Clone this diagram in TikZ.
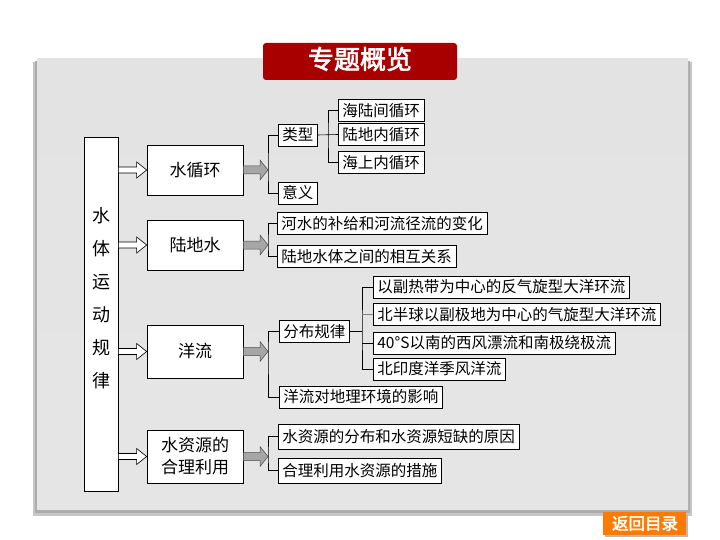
\documentclass[tikz,border=0pt]{standalone}
\usepackage{fontspec}
\setmainfont{Noto Sans CJK SC}
\newfontfamily\boldcjk{Noto Sans CJK SC}[FakeBold=2.5]
\usetikzlibrary{calc}

\definecolor{bannerdark}{HTML}{A80000}
\definecolor{bannerred}{HTML}{E00000}
\definecolor{btnorange}{HTML}{FF7A00}

% hollow arrow from the left column to a topic box
\newcommand{\openarrow}[2]{%
  \draw[line width=0.6pt,fill=white] ($(#1.east |- #2.west)+(0,-3)$) -- ($(#2.west)+(-10,-3)$)
    -- ($(#2.west)+(-10,-8)$) -- (#2.west) -- ($(#2.west)+(-10,8)$) -- ($(#2.west)+(-10,3)$)
    -- ($(#1.east |- #2.west)+(0,3)$) -- cycle;}
% grey arrow from a topic box to its bracket
\newcommand{\greyarrow}[2]{%
  \draw[draw=gray!60!black,fill=gray!70,line width=0.5pt] ($(#1.east)+(0,-4)$) -- ($(#2)+(-8,-4)$)
    -- ($(#2)+(-8,-10)$) -- (#2) -- ($(#2)+(-8,10)$) -- ($(#2)+(-8,4)$)
    -- ($(#1.east)+(0,4)$) -- cycle;}

\begin{document}
\begin{tikzpicture}[x=1pt,y=-1pt,
    topic/.style={draw,fill=white,line width=0.7pt,minimum width=96pt,minimum height=50pt,
      align=center,font=\fontsize{17}{22}\selectfont},
    item/.style={draw,fill=white,line width=0.7pt,anchor=west,inner xsep=4pt,inner ysep=0pt,
      minimum height=22pt,font=\fontsize{15.5}{18}\selectfont},
    brace/.style={line width=0.6pt}]
  \useasboundingbox (0,0) rectangle (720,540);

  % panel with its shadow
  \fill[gray!45] (33,62) rectangle (692,516);
  \fill[gray!65] (35,61) rectangle (690,513);
  \shade[top color=gray!22,middle color=white,bottom color=gray!20] (37,59) rectangle (688,509);

  % banner
  \shade[top color=bannerdark,middle color=bannerred,bottom color=bannerdark,rounded corners=3pt]
    (263,80) -- (263,43) -- (457,43) -- (457,80) -- cycle;
  \node[text=white,font=\boldcjk\fontsize{26}{28}\selectfont] (title) at (360,59) {专题概览};

  % back button
  \fill[gray!55] (605,514) rectangle (688,537);
  \fill[btnorange] (603,512) rectangle (686,535);
  \node[text=white,font=\boldcjk\fontsize{16.5}{18}\selectfont] (back) at (645,523.5) {返回目录};

  % left column
  \node[draw,fill=white,line width=0.7pt,minimum width=34pt,minimum height=354pt] (main) at (101,314) {};
  \node[align=center,font=\fontsize{18}{33}\selectfont] (mtext) at (101,298) {水\\体\\运\\动\\规\\律};

  % topics
  \node[topic] (sx) at (195,170) {水循环};
  \node[topic] (ld) at (195,245) {陆地水};
  \node[topic,minimum height=53pt] (yl) at (195,351.5) {洋流};
  \node[topic,minimum height=53pt] (zy) at (195,456.5) {水资源的\\合理利用};

  \coordinate (b1) at (268,170);
  \coordinate (b2) at (268,245);
  \coordinate (b3) at (268,351.5);
  \coordinate (b4) at (268,456.5);

  \foreach \t in {sx,ld,yl,zy} {\openarrow{main}{\t}}
  \greyarrow{sx}{b1}
  \greyarrow{ld}{b2}
  \greyarrow{yl}{b3}
  \greyarrow{zy}{b4}

  % water cycle
  \node[item] (lx) at (278,135) {类型};
  \node[item] (yy) at (278,193) {意义};
  \node[item] (h1) at (338,110.5) {海陆间循环};
  \node[item] (h2) at (338,134.5) {陆地内循环};
  \node[item] (h3) at (338,162.5) {海上内循环};
  \coordinate (c1) at (328,134.5);
  \draw[brace] (lx.west) -| (b1) |- (yy.west);
  \draw[brace] (lx.east) -- (h2.west);
  \draw[brace] (h1.west) -| (c1) |- (h3.west);

  % land water
  \node[item] (l1) at (277,223.5) {河水的补给和河流径流的变化};
  \node[item] (l2) at (277,256.5) {陆地水体之间的相互关系};
  \draw[brace] (l1.west) -| (b2) |- (l2.west);

  % ocean currents
  \node[item] (fb) at (279,331.5) {分布规律};
  \node[item] (yx) at (279,397) {洋流对地理环境的影响};
  \node[item] (o1) at (373,287) {以副热带为中心的反气旋型大洋环流};
  \node[item] (o2) at (373,314.5) {北半球以副极地为中心的气旋型大洋环流};
  \node[item] (o3) at (373,343) {40°S以南的西风漂流和南极绕极流};
  \node[item] (o4) at (373,369) {北印度洋季风洋流};
  \coordinate (c2) at (362,331.5);
  \draw[brace] (fb.west) -| (b3) |- (yx.west);
  \draw[brace] (fb.east) -- (c2);
  \draw[brace] (o1.west) -| (c2) |- (o4.west);
  \draw[brace,gray] (c2 |- o2.west) -- (o2.west);
  \draw[brace] (c2 |- o3.west) -- (o3.west);

  % water resources
  \node[item,minimum height=25pt] (w1) at (278,436.5) {水资源的分布和水资源短缺的原因};
  \node[item,minimum height=25pt] (w2) at (278,470.5) {合理利用水资源的措施};
  \draw[brace] (w1.west) -| (b4) |- (w2.west);
\end{tikzpicture}
\end{document}
